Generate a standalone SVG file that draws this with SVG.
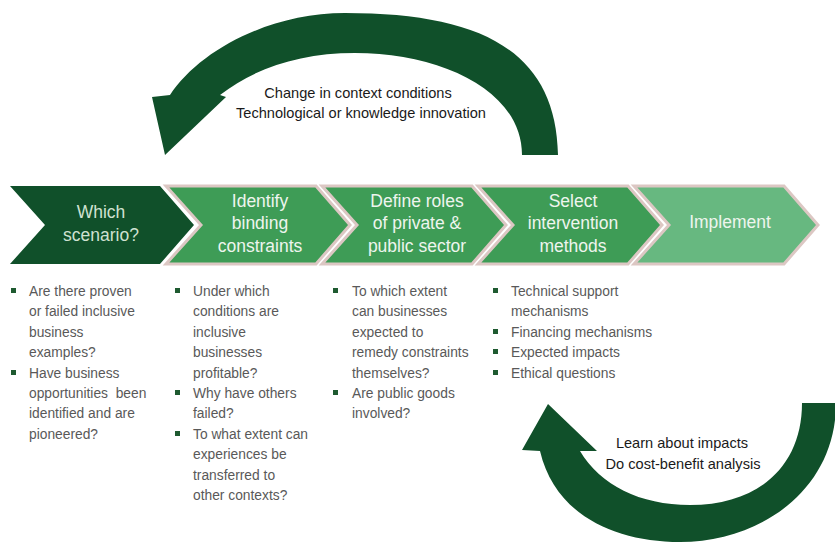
<svg xmlns="http://www.w3.org/2000/svg" width="835" height="543" viewBox="0 0 835 543">
<style>
.bg{fill:#ffffff}
.arrow{fill:#10502a}
.c1{fill:#10502a}
.cm{fill:#3e9c56;stroke:#dcc7c3;stroke-width:3;stroke-linejoin:miter}
.cl{fill:#67b880;stroke:#dcc7c3;stroke-width:3;stroke-linejoin:miter}
.ct{font-family:"Liberation Sans",Arial,sans-serif;font-size:17.5px;text-anchor:middle;fill:#eef5ee}
.ct1{fill:#cfe1d1}
.lt{font-family:"Liberation Sans",Arial,sans-serif;font-size:14.6px;text-anchor:middle;fill:#1a1a1a}
.bt{font-family:"Liberation Sans",Arial,sans-serif;font-size:13.8px;fill:#595959;white-space:pre}
.bul{fill:#1e5a30}
</style>
<rect class="bg" x="0" y="0" width="835" height="543"/>
<g id="connectors">
<g id="loop-top">
<path class="arrow" d="M 558,155 C 556,50 480,13 345,13 C 270,13 200,50 170,95 L 152,97 L 165,155 L 226,97 L 220,95 C 255,68 300,53 355,53 C 440,53 522,90 522,155 Z"/>
<text class="lt" x="358" y="98">Change in context conditions</text>
<text class="lt" x="361" y="118">Technological or knowledge innovation</text>
</g>
<g id="loop-bottom">
<path class="arrow" d="M 802,403 L 836,403 C 836,490 760,542 680,542 C 615,542 555,515 540,451 L 522,450 L 548,404 L 597,451 L 580,451 C 600,485 640,505 690,505 C 760,505 802,465 802,403 Z"/>
<text class="lt" x="682" y="448">Learn about impacts</text>
<text class="lt" x="683" y="469">Do cost-benefit analysis</text>
</g>
</g>
<g id="step1">
<polygon class="c1" points="10,186 160,186 194,225 160,264 10,264 45,225"/>
<text class="ct ct1" x="101" y="218">Which</text>
<text class="ct ct1" x="101" y="241">scenario?</text>
</g>
<g id="step2">
<polygon class="cm" points="166,186 316,186 350,225 316,264 166,264 201,225"/>
<text class="ct" x="260" y="207">Identify</text>
<text class="ct" x="260" y="229">binding</text>
<text class="ct" x="260" y="252">constraints</text>
</g>
<g id="step3">
<polygon class="cm" points="322,186 472,186 506,225 472,264 322,264 357,225"/>
<text class="ct" x="417" y="207">Define roles</text>
<text class="ct" x="417" y="229">of private &amp;</text>
<text class="ct" x="417" y="252">public sector</text>
</g>
<g id="step4">
<polygon class="cm" points="478,186 628,186 662,225 628,264 478,264 513,225"/>
<text class="ct" x="573" y="207">Select</text>
<text class="ct" x="573" y="229">intervention</text>
<text class="ct" x="573" y="252">methods</text>
</g>
<g id="step5">
<polygon class="cl" points="634,186 784,186 818,225 784,264 634,264 669,225"/>
<text class="ct" x="730" y="228">Implement</text>
</g>
<g id="list1">
<rect class="bul" x="11" y="288" width="5" height="5"/>
<rect class="bul" x="11" y="370" width="5" height="5"/>
<text class="bt" x="29" y="296">Are there proven</text>
<text class="bt" x="29" y="316">or failed inclusive</text>
<text class="bt" x="29" y="337">business</text>
<text class="bt" x="29" y="357">examples?</text>
<text class="bt" x="29" y="378">Have business</text>
<text class="bt" x="29" y="398">opportunities  been</text>
<text class="bt" x="29" y="418">identified and are</text>
<text class="bt" x="29" y="439">pioneered?</text>
</g>
<g id="list2">
<rect class="bul" x="175" y="288" width="5" height="5"/>
<rect class="bul" x="175" y="390" width="5" height="5"/>
<rect class="bul" x="175" y="431" width="5" height="5"/>
<text class="bt" x="193" y="296">Under which</text>
<text class="bt" x="193" y="316">conditions are</text>
<text class="bt" x="193" y="337">inclusive</text>
<text class="bt" x="193" y="357">businesses</text>
<text class="bt" x="193" y="378">profitable?</text>
<text class="bt" x="193" y="398">Why have others</text>
<text class="bt" x="193" y="418">failed?</text>
<text class="bt" x="193" y="439">To what extent can</text>
<text class="bt" x="193" y="459">experiences be</text>
<text class="bt" x="193" y="480">transferred to</text>
<text class="bt" x="193" y="500">other contexts?</text>
</g>
<g id="list3">
<rect class="bul" x="333" y="288" width="5" height="5"/>
<rect class="bul" x="333" y="390" width="5" height="5"/>
<text class="bt" x="352" y="296">To which extent</text>
<text class="bt" x="352" y="316">can businesses</text>
<text class="bt" x="352" y="337">expected to</text>
<text class="bt" x="352" y="357">remedy constraints</text>
<text class="bt" x="352" y="378">themselves?</text>
<text class="bt" x="352" y="398">Are public goods</text>
<text class="bt" x="352" y="418">involved?</text>
</g>
<g id="list4">
<rect class="bul" x="493" y="288" width="5" height="5"/>
<rect class="bul" x="493" y="329" width="5" height="5"/>
<rect class="bul" x="493" y="349" width="5" height="5"/>
<rect class="bul" x="493" y="370" width="5" height="5"/>
<text class="bt" x="511" y="296">Technical support</text>
<text class="bt" x="511" y="316">mechanisms</text>
<text class="bt" x="511" y="337">Financing mechanisms</text>
<text class="bt" x="511" y="357">Expected impacts</text>
<text class="bt" x="511" y="378">Ethical questions</text>
</g>
</svg>
